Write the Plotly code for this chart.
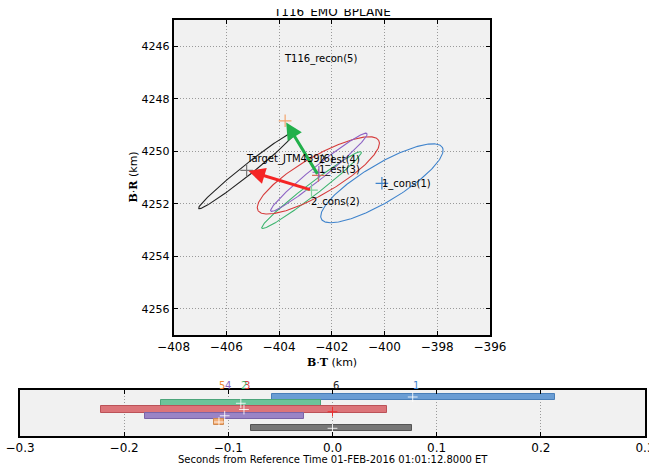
import numpy as np
import plotly.graph_objects as go

# ---- B-plane solutions -------------------------------------------------
names = ["1_cons(1)", "2_cons(2)", "1_est(3)", "2_est(4)", "T116_recon(5)", "Target_JTM439(6)"]
center_bt = [-400.10, -402.77, -402.51, -402.49, -403.77, -405.23]
center_br = [4251.22, 4251.48, 4250.92, 4250.80, 4248.84, 4250.73]

# 1-sigma dispersion ellipses (km, degrees counter-clockwise as drawn); None = no ellipse
semi_major = [2.67, 2.38, 2.65, 2.35, None, 2.33]
semi_minor = [0.72, 0.23, 0.715, 0.25, None, 0.20]
tilt_deg = [30.9, 37.6, 30.3, 39.0, None, 38.6]

label_bt = [-400.07, -402.74, -402.43, -402.43, -403.77, -405.20]
label_br = [4251.26, 4251.94, 4250.71, 4250.33, 4246.50, 4250.31]

ellipse_colors = ["#3f83cc", "#3cb46e", "#d63a3a", "#8c62c4", "#f3a46e", "#222222"]
center_colors = ["#3f83cc", "#7fd19b", "#d9705a", "#8c62c4", "#f3a46e", "#777777"]

# arrows: (from solution, to solution)
arrow_from = [1, 2]
arrow_to = [5, 4]
arrow_colors = ["#f52525", "#22b04b"]

# ---- time of closest approach --------------------------------------------
row_ids = [1, 2, 3, 4, 5, 6]
time_start = [-0.058, -0.165, -0.222, -0.180, -0.1138, -0.078]
time_end = [0.214, -0.0115, 0.0525, -0.027, -0.104, 0.076]
time_mark = [0.077, -0.088, -0.085, -0.1035, -0.109, 0.0]
time_ticks = [-0.3, -0.2, -0.1, 0.0, 0.1, 0.2, 0.3]
bar_fill = ["#6a9dd4", "#6cc49a", "#dc7479", "#9a84c6", "#f3ad76", "#777777"]
bar_edge = ["#4a7fb8", "#4ca57b", "#bb5258", "#7a64a8", "#d08a50", "#555555"]
label_colors = ["#3f83cc", "#3cb46e", "#d63a3a", "#8c62c4", "#f08a3c", "#222222"]
reference_mark = 0.0

FONT = "DejaVu Sans"
W, H = 649, 466
fig = go.Figure()

t = np.linspace(0, 2 * np.pi, 240)
for i in range(len(names)):
    if semi_major[i] is None:
        continue
    a, b, th = semi_major[i], semi_minor[i], np.radians(tilt_deg[i])
    ex = center_bt[i] + a * np.cos(t) * np.cos(th) - b * np.sin(t) * np.sin(th)
    # B.R axis is reversed, so subtract to keep the tilt counter-clockwise on screen
    ey = center_br[i] - (a * np.cos(t) * np.sin(th) + b * np.sin(t) * np.cos(th))
    fig.add_trace(go.Scatter(x=ex, y=ey, mode="lines",
                             line=dict(color=ellipse_colors[i], width=1.1),
                             hoverinfo="skip", showlegend=False))

fig.add_trace(go.Scatter(x=center_bt, y=center_br, mode="markers",
                         marker=dict(symbol="cross-thin", size=9,
                                     line=dict(color=center_colors, width=1.2)),
                         showlegend=False, hoverinfo="skip"))

for k in range(len(arrow_from)):
    s, e = arrow_from[k], arrow_to[k]
    fig.add_annotation(x=center_bt[e], y=center_br[e], ax=center_bt[s], ay=center_br[s],
                       xref="x", yref="y", axref="x", ayref="y", text="",
                       showarrow=True, arrowhead=2, arrowsize=1.1, arrowwidth=3,
                       arrowcolor=arrow_colors[k], standoff=2)

for i in range(len(names)):
    fig.add_annotation(x=label_bt[i], y=label_br[i], xref="x", yref="y", text=names[i],
                       showarrow=False, xanchor="left", yanchor="middle",
                       font=dict(family=FONT, size=10, color="black"),
                       borderpad=0, borderwidth=0, xshift=-1)

# ---- timeline bars ----------------------------------------------------------
fig.add_trace(go.Bar(y=row_ids, x=[e - s for s, e in zip(time_start, time_end)],
                     base=time_start, orientation="h", width=0.98,
                     marker=dict(color=bar_fill, line=dict(color=bar_edge, width=1)),
                     xaxis="x2", yaxis="y2", showlegend=False, hoverinfo="skip"))
fig.add_trace(go.Scatter(x=time_mark, y=row_ids, mode="markers", xaxis="x2", yaxis="y2",
                         marker=dict(symbol="cross-thin", size=7,
                                     line=dict(color="rgba(255,255,255,0.85)", width=1)),
                         showlegend=False, hoverinfo="skip"))
fig.add_trace(go.Scatter(x=[reference_mark], y=[3.35], mode="markers", xaxis="x2", yaxis="y2",
                         marker=dict(symbol="cross-thin", size=7,
                                     line=dict(color="#ee3030", width=1)),
                         showlegend=False, hoverinfo="skip"))
for i in range(len(row_ids)):
    fig.add_annotation(x=time_mark[i], y=-0.12, xref="x2", yref="y2", text=str(row_ids[i]),
                       showarrow=False, xanchor="left", yanchor="bottom", borderpad=0,
                       borderwidth=0, yshift=-1,
                       font=dict(family=FONT, size=10, color=label_colors[i]))

# axis titles
BOLD = "<span style='font-family:DejaVu Serif'><b>{}</b></span>"
fig.add_annotation(x=331.5 / W, y=1 - 362 / H, xref="paper", yref="paper",
                   text=BOLD.format("B") + "\u00b7" + BOLD.format("T") + " (km)",
                   showarrow=False, xanchor="center", yanchor="middle",
                   font=dict(family=FONT, size=11, color="black"))
fig.add_annotation(x=133 / W, y=1 - 177.5 / H, xref="paper", yref="paper",
                   text=BOLD.format("B") + "\u00b7" + BOLD.format("R") + " (km)",
                   showarrow=False, xanchor="center", yanchor="middle", textangle=-90,
                   font=dict(family=FONT, size=11, color="black"))
fig.add_annotation(x=332.5 / W, y=1 - 459 / H, xref="paper", yref="paper",
                   text="Seconds from Reference Time 01-FEB-2016 01:01:12.8000 ET",
                   showarrow=False, xanchor="center", yanchor="middle",
                   font=dict(family=FONT, size=10, color="black"))

# plot title, its upper part hidden behind a white band along the top edge
fig.add_annotation(x=331.8 / W, y=1 - 19 / H, xref="paper", yref="paper",
                   text="T116_EMO_BPLANE", showarrow=False, xanchor="center",
                   yanchor="bottom", borderpad=0, borderwidth=0,
                   font=dict(family=FONT, size=12, color="black"))
fig.add_annotation(x=0, y=1, xref="paper", yref="paper", text=" ", showarrow=False,
                   xanchor="left", yanchor="top", width=W, height=9, bgcolor="white",
                   borderpad=0, borderwidth=0)

axis_common = dict(showline=True, linewidth=2, linecolor="black", mirror="allticks",
                   ticks="inside", ticklen=4, tickwidth=1, tickcolor="black",
                   zeroline=False, gridcolor="#9a9a9a", griddash="1px,2px", gridwidth=1,
                   automargin=False,
                   tickfont=dict(family=FONT, size=12, color="black"))

fig.update_layout(
    width=W, height=H, margin=dict(l=0, r=0, t=0, b=0, autoexpand=False),
    paper_bgcolor="white", plot_bgcolor="#f1f1f1", bargap=0,
    xaxis=dict(domain=[173.6 / W, 490 / W], range=[-408, -396], dtick=2,
               anchor="y", **axis_common),
    yaxis=dict(domain=[1 - 335 / H, 1 - 20 / H], range=[4257, 4245], dtick=2,
               tick0=4246, anchor="x", **{**axis_common,
                                          "tickfont": dict(family=FONT, size=11, color="black")}),
    xaxis2=dict(domain=[20 / W, 645 / W], range=[-0.3, 0.3], tickmode="array",
                tickvals=time_ticks, ticktext=[f"{v:.1f}".replace("-", "\u2212") for v in time_ticks],
                ticklabeloverflow="allow", anchor="y2", **axis_common),
    yaxis2=dict(domain=[1 - 436 / H, 1 - 390 / H], range=[7.23, -0.12],
                showticklabels=False, ticks="", showgrid=False, showline=True,
                linewidth=2, linecolor="black", mirror=True, zeroline=False,
                automargin=False, anchor="x2"),
)

fig.write_html("out.html")
